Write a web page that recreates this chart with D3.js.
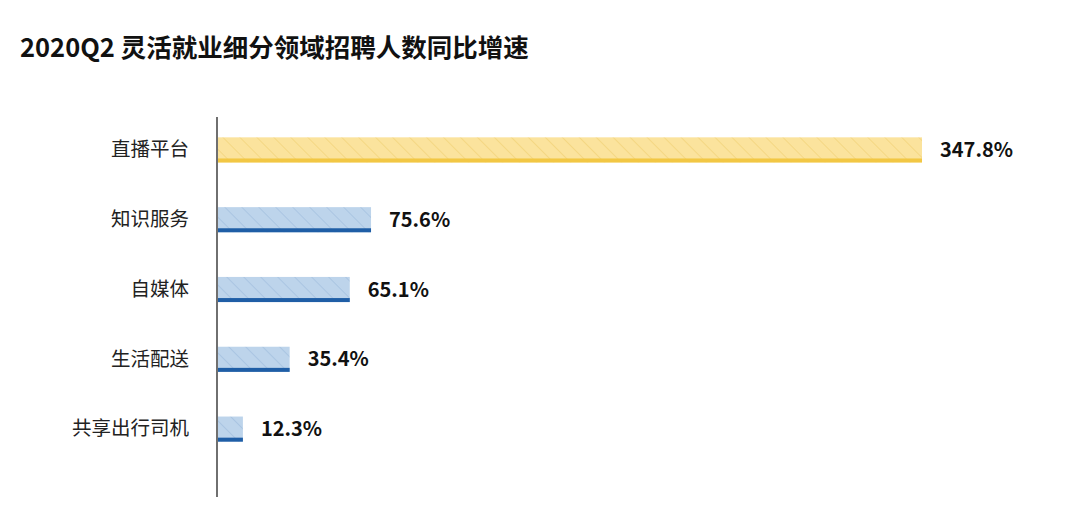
<!DOCTYPE html>
<html>
<head>
<meta charset="utf-8">
<script src="https://cdn.jsdelivr.net/npm/d3@7"></script>
<style>
  body { margin: 0; background: #fff; }
  text { font-family: "Noto Sans CJK SC", "Noto Sans", sans-serif; }
</style>
</head>
<body>
<svg width="1080" height="513"></svg>
<script>
const categories = ["直播平台", "知识服务", "自媒体", "生活配送", "共享出行司机"];
const values = [347.8, 75.6, 65.1, 35.4, 12.3];
const labels = ["347.8%", "75.6%", "65.1%", "35.4%", "12.3%"];

const svg = d3.select("svg");
const margin = { left: 218, top: 114, right: 158, bottom: 16 };

// hatch patterns
const defs = svg.append("defs");
function hatch(id, fill, line) {
    const p = defs.append("pattern")
        .attr("id", id)
        .attr("patternUnits", "userSpaceOnUse")
        .attr("width", 12).attr("height", 12)
        .attr("patternTransform", "rotate(-45)");
    p.append("rect").attr("width", 12).attr("height", 12).attr("fill", fill);
    p.append("line")
        .attr("x1", 0).attr("y1", 0).attr("x2", 0).attr("y2", 12)
        .attr("stroke", line).attr("stroke-width", 1.2);
}
hatch("hatchY", "#fbe39d", "#f0cf72");
hatch("hatchB", "#bdd4eb", "#9dbbdc");

svg.append("text")
    .attr("x", 20).attr("y", 57)
    .attr("font-size", 25.5)
    .attr("font-weight", "bold")
    .attr("fill", "#111")
    .text("2020Q2 灵活就业细分领域招聘人数同比增速");

const x = d3.scaleLinear()
    .domain([0, 347.8])
    .range([margin.left, 922]);

const y = d3.scaleBand()
    .domain(categories)
    .range([margin.top + 1, 464])
    .paddingInner(0.64)
    .paddingOuter(0.32);

const g = svg.append("g");

const bars = g.selectAll("g.bar")
    .data(categories)
    .enter().append("g")
    .attr("class", "bar");

bars.append("rect")
    .attr("x", x(0))
    .attr("y", d => y(d))
    .attr("width", (d, i) => x(values[i]) - x(0))
    .attr("height", y.bandwidth())
    .attr("fill", (d, i) => i === 0 ? "url(#hatchY)" : "url(#hatchB)");

bars.append("rect")
    .attr("x", x(0))
    .attr("y", d => y(d) + y.bandwidth() - 4)
    .attr("width", (d, i) => x(values[i]) - x(0))
    .attr("height", 4)
    .attr("fill", (d, i) => i === 0 ? "#f2c744" : "#1f5ea6");

bars.append("text")
    .attr("x", (d, i) => x(values[i]) + 18)
    .attr("y", d => y(d) + y.bandwidth() / 2)
    .attr("dy", "0.35em")
    .attr("font-size", 20)
    .attr("font-weight", "bold")
    .attr("fill", "#111")
    .text((d, i) => labels[i]);

const axis = svg.append("g")
    .attr("transform", `translate(${x(0) - 1}, 0)`)
    .call(d3.axisLeft(y).tickSize(0).tickPadding(28));
axis.select(".domain")
    .attr("d", `M0,117V497`)
    .attr("stroke", "#222")
    .attr("stroke-width", 1.3);
axis.selectAll("text")
    .attr("font-family", "\"Noto Sans CJK SC\", sans-serif")
    .attr("font-size", 19.5)
    .attr("fill", "#222");
</script>
</body>
</html>
